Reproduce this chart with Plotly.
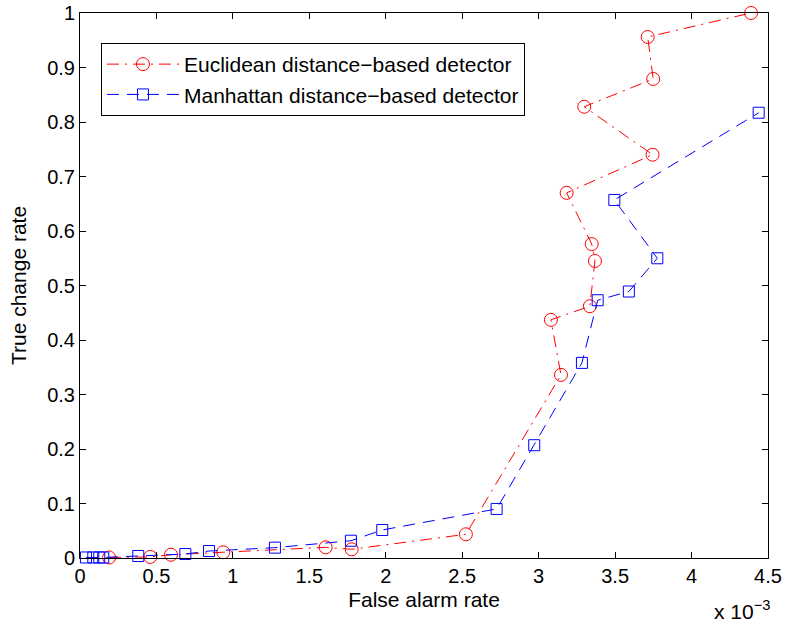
import plotly.graph_objects as go

# False alarm rate values are in units of 1e-3
euc_far = [0.19, 0.46, 0.595, 0.937, 1.607, 1.777, 2.524, 3.146, 3.08, 3.335, 3.368, 3.347, 3.183, 3.745, 3.298, 3.749, 3.713, 4.389]
euc_tcr = [0.001, 0.002, 0.006, 0.0105, 0.0196, 0.016, 0.0435, 0.336, 0.437, 0.462, 0.545, 0.576, 0.67, 0.74, 0.828, 0.879, 0.956, 1.0]

man_far = [0.039, 0.087, 0.126, 0.152, 0.381, 0.689, 0.844, 1.275, 1.772, 1.977, 2.725, 2.971, 3.283, 3.386, 3.59, 3.776, 3.495, 4.439]
man_tcr = [0.001, 0.001, 0.001, 0.001, 0.0037, 0.0073, 0.0128, 0.019, 0.0317, 0.0514, 0.09, 0.207, 0.358, 0.473, 0.489, 0.55, 0.657, 0.817]

x_ticks = [0, 0.5, 1, 1.5, 2, 2.5, 3, 3.5, 4, 4.5]
x_tick_labels = ["0", "0.5", "1", "1.5", "2", "2.5", "3", "3.5", "4", "4.5"]
y_ticks = [0, 0.1, 0.2, 0.3, 0.4, 0.5, 0.6, 0.7, 0.8, 0.9, 1]
y_tick_labels = ["0", "0.1", "0.2", "0.3", "0.4", "0.5", "0.6", "0.7", "0.8", "0.9", "1"]

font = "Liberation Sans, Arial, Helvetica, sans-serif"

fig = go.Figure()
fig.add_trace(go.Scatter(
    x=euc_far, y=euc_tcr, mode="lines+markers",
    name="Euclidean distance\u2212based detector",
    line=dict(color="red", width=1, dash="12px,6px,2px,6px"),
    marker=dict(symbol="circle-open", size=13, color="red", line=dict(width=1)),
    cliponaxis=False,
))
fig.add_trace(go.Scatter(
    x=man_far, y=man_tcr, mode="lines+markers",
    name="Manhattan distance\u2212based detector",
    line=dict(color="blue", width=1, dash="12px,8px"),
    marker=dict(symbol="square-open", size=11, color="blue", line=dict(width=1)),
    cliponaxis=False,
))

axis_common = dict(
    showgrid=False, zeroline=False, showline=True, linecolor="black", linewidth=1,
    mirror="ticks", ticks="inside", ticklen=6, tickcolor="black",
    tickfont=dict(family=font, size=20, color="black"),
    automargin=False,
)
fig.update_xaxes(range=[0, 4.5], tickvals=x_ticks, ticktext=x_tick_labels,
                 title=dict(text="False alarm rate", font=dict(family=font, size=21, color="black"), standoff=6),
                 **axis_common)
fig.update_yaxes(range=[0, 1], tickvals=y_ticks, ticktext=y_tick_labels,
                 title=dict(text="True change rate", font=dict(family=font, size=21, color="black"), standoff=14),
                 **axis_common)

fig.add_annotation(text="x 10<sup>\u22123</sup>", xref="paper", yref="paper",
                   x=1.0, y=-0.068, xanchor="right", yanchor="top", xshift=4, showarrow=False,
                   font=dict(family=font, size=21, color="black"))

fig.update_layout(
    width=789, height=624,
    margin=dict(l=80, r=21, t=13, b=66, autoexpand=False),
    paper_bgcolor="white", plot_bgcolor="white",
    showlegend=True,
    legend=dict(x=0.0305, y=0.945, xanchor="left", yanchor="top",
                bordercolor="black", borderwidth=1, bgcolor="white",
                font=dict(family=font, size=21, color="black"),
                tracegroupgap=0, itemwidth=72),
)

fig.write_html("out.html")
